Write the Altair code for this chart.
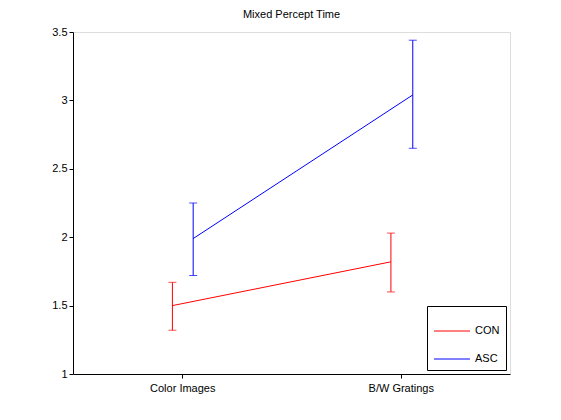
import altair as alt
import pandas as pd

groups = ["CON", "CON", "ASC", "ASC"]
xpos = [0.955, 1.955, 1.05, 2.055]
means = [1.50, 1.82, 1.99, 3.04]
lows = [1.32, 1.60, 1.72, 2.65]
highs = [1.67, 2.03, 2.25, 3.44]
cat_labels = ["Color Images", "B/W Gratings"]

df = pd.DataFrame({"g": groups, "x": xpos, "m": means, "lo": lows, "hi": highs})
colors = alt.Scale(domain=["CON", "ASC"], range=["#ff0000", "#0000ff"])

xs = alt.X("x:Q", scale=alt.Scale(domain=[0.5, 2.5], nice=False),
           axis=alt.Axis(values=[1, 2], title=None,
                         labelExpr="datum.value == 1 ? 'Color Images' : 'B/W Gratings'",
                         grid=False, tickSize=4, labelFontSize=11, labelColor="black",
                         domainColor="black", tickColor="black", labelPadding=4))
ys = alt.Y("m:Q", scale=alt.Scale(domain=[1, 3.5], nice=False),
           axis=alt.Axis(values=[1, 1.5, 2, 2.5, 3, 3.5], title=None, grid=False,
                         tickSize=4, labelFontSize=11, labelColor="black",
                         domainColor="black", tickColor="black", format="~g"))
col = alt.Color("g:N", scale=colors, sort=["CON", "ASC"],
                legend=alt.Legend(title=None, orient="bottom-right", symbolType="stroke",
                                  symbolSize=1300, symbolStrokeWidth=1, strokeColor="black",
                                  fillColor="white", padding=6, labelFontSize=11,
                                  offset=4, rowPadding=4))

base = alt.Chart(df)
lines = base.mark_line(strokeWidth=1).encode(x=xs, y=ys, color=col, detail="g:N")
rules = base.mark_rule(strokeWidth=1).encode(x="x:Q", y="lo:Q", y2="hi:Q",
                                              color=alt.Color("g:N", scale=colors, legend=None))
caplo = base.mark_tick(orient="horizontal", size=8, thickness=1).encode(
    x="x:Q", y="lo:Q", color=alt.Color("g:N", scale=colors, legend=None))
caphi = base.mark_tick(orient="horizontal", size=8, thickness=1).encode(
    x="x:Q", y="hi:Q", color=alt.Color("g:N", scale=colors, legend=None))

chart = alt.layer(lines, rules, caplo, caphi).properties(
    width=437, height=342,
    title=alt.Title("Mixed Percept Time", fontSize=11, fontWeight="normal", offset=6),
    autosize=alt.AutoSizeParams(type="none"),
    padding={"left": 65, "top": 24, "right": 40, "bottom": 30},
).configure_view(stroke="black", strokeWidth=1).configure(font="Liberation Sans")

chart.save("out.html", embed_options={"renderer": "svg", "actions": False})
